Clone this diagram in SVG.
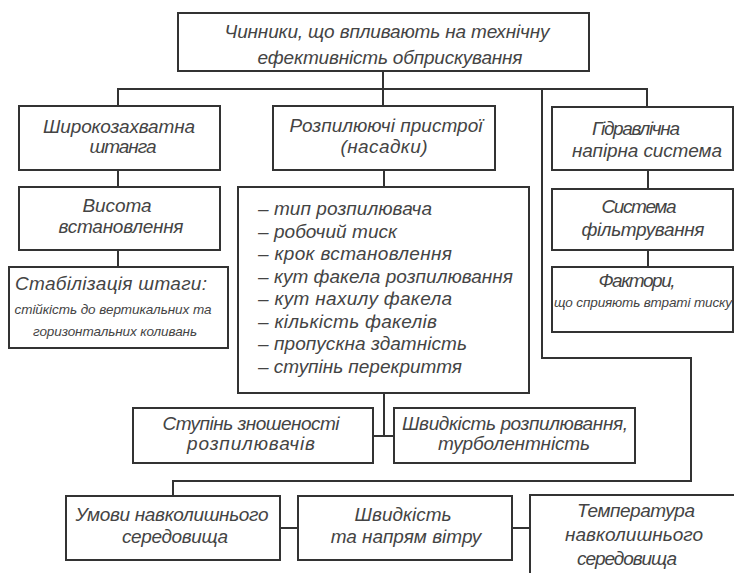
<svg xmlns="http://www.w3.org/2000/svg" width="734" height="573" viewBox="0 0 734 573">
<style>
.box{fill:#fff;stroke:#333;stroke-width:2}
.ln{fill:none;stroke:#333;stroke-width:2}
text{font-family:"Liberation Sans",Arial,sans-serif;font-style:italic;font-size:19px;fill:#444;text-anchor:middle}
.s{font-size:13.5px}
.l{text-anchor:start}
</style>
<rect width="734" height="573" fill="#fff"/>
<g id="connectors">
<polyline class="ln" points="383,71 383,106"/>
<polyline class="ln" points="118,106 118,89 647,89 647,107"/>
<polyline class="ln" points="118,170 118,187"/>
<polyline class="ln" points="118,250 118,267"/>
<polyline class="ln" points="384,170 384,187"/>
<polyline class="ln" points="384,393 384,436"/>
<polyline class="ln" points="373,436 394,436"/>
<polyline class="ln" points="648,170 648,189"/>
<polyline class="ln" points="648,250 648,267"/>
<polyline class="ln" points="542,89 542,358 691,358 691,481 173,481 173,496"/>
<polyline class="ln" points="280,528 298,528"/>
<polyline class="ln" points="512,528 530,528"/>
</g>
<g id="n_root">
<rect class="box" x="178" y="13" width="411" height="58"/>
<text x="387" y="38" textLength="325">Чинники, що впливають на технічну</text>
<text x="390" y="64" textLength="265">ефективність обприскування</text>
</g>
<g id="n_boom">
<rect class="box" x="19" y="106" width="201" height="64"/>
<text x="119" y="133" textLength="152">Широкозахватна</text>
<text x="123" y="153" textLength="67">штанга</text>
</g>
<g id="n_height">
<rect class="box" x="19" y="187" width="201" height="63"/>
<text x="117" y="212" textLength="69">Висота</text>
<text x="121" y="233" textLength="125">встановлення</text>
</g>
<g id="n_stab">
<rect class="box" x="9" y="267" width="219" height="81"/>
<text x="111" y="290" textLength="192">Стабілізація штаги:</text>
<text class="s" x="113" y="314" textLength="197">стійкість до вертикальних та</text>
<text class="s" x="115" y="336" textLength="164">горизонтальних коливань</text>
</g>
<g id="n_nozzles">
<rect class="box" x="273" y="106" width="222" height="64"/>
<text x="386" y="132" textLength="193">Розпилюючі пристрої</text>
<text x="384" y="153" textLength="87">(насадки)</text>
</g>
<g id="n_list">
<rect class="box" x="238" y="187" width="291" height="206"/>
<text class="l" x="258" y="215" textLength="174">– тип розпилювача</text>
<text class="l" x="258" y="237.5" textLength="139">– робочий тиск</text>
<text class="l" x="258" y="260" textLength="194">– крок встановлення</text>
<text class="l" x="258" y="282.5" textLength="255">– кут факела розпилювання</text>
<text class="l" x="258" y="305" textLength="194">– кут нахилу факела</text>
<text class="l" x="258" y="327.5" textLength="179">– кількість факелів</text>
<text class="l" x="258" y="350" textLength="209">– пропускна здатність</text>
<text class="l" x="258" y="372.5" textLength="204">– ступінь перекриття</text>
</g>
<g id="n_wear">
<rect class="box" x="133" y="408" width="240" height="55"/>
<text x="251" y="430" textLength="177">Ступінь зношеності</text>
<text x="251" y="450" textLength="128">розпилювачів</text>
</g>
<g id="n_speed">
<rect class="box" x="394" y="408" width="241" height="55"/>
<text x="515" y="430" textLength="226">Швидкість розпилювання,</text>
<text x="514" y="450" textLength="152">турболентність</text>
</g>
<g id="n_hydro">
<rect class="box" x="552" y="107" width="181" height="63"/>
<text x="636" y="135" textLength="88">Гідравлічна</text>
<text x="647" y="157" textLength="150">напірна система</text>
</g>
<g id="n_filter">
<rect class="box" x="552" y="189" width="181" height="61"/>
<text x="639" y="213" textLength="75">Система</text>
<text x="643" y="236" textLength="123">фільтрування</text>
</g>
<g id="n_factors">
<rect class="box" x="552" y="267" width="181" height="65"/>
<text x="637" y="287" textLength="77">Фактори,</text>
<text class="s" x="643" y="307" textLength="178">що сприяють втраті тиску</text>
</g>
<g id="n_env">
<rect class="box" x="66" y="496" width="214" height="64"/>
<text x="172" y="521" textLength="193">Умови навколишнього</text>
<text x="175" y="543" textLength="106">середовища</text>
</g>
<g id="n_wind">
<rect class="box" x="298" y="496" width="214" height="64"/>
<text x="403" y="521">Швидкість</text>
<text x="406" y="543">та напрям вітру</text>
</g>
<g id="n_temp">
<rect class="box" x="530" y="495" width="210" height="90"/>
<text x="636" y="517" textLength="118">Температура</text>
<text x="634" y="541" textLength="138">навколишнього</text>
<text x="627" y="565" textLength="100">середовища</text>
</g>
</svg>
